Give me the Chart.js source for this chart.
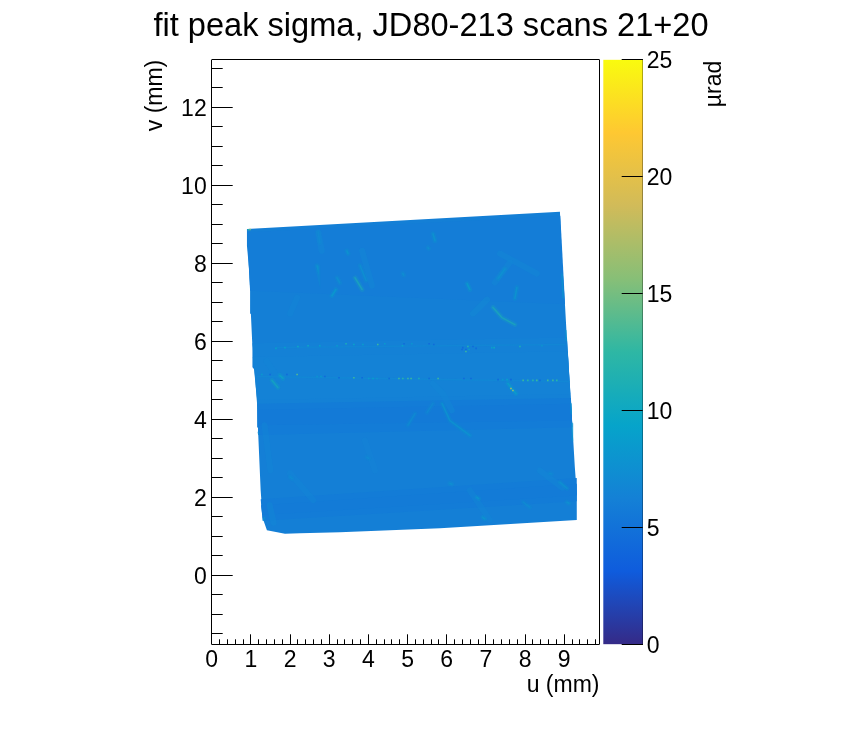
<!DOCTYPE html>
<html>
<head>
<meta charset="utf-8">
<title>fit peak sigma</title>
<script src="https://cdn.jsdelivr.net/npm/chart.js@4"></script>
<style>
html, body { margin: 0; padding: 0; background: #fff; }
canvas { position: absolute; top: 0; }
#mapChart { left: 0; }
#barChart { left: 600px; }
</style>
</head>
<body>
<canvas id="mapChart" width="862" height="732"></canvas>
<canvas id="barChart" width="262" height="732"></canvas>
<script>
/* Palette (sigma 0 to 25) */
var paletteStops = [0, 0.125, 0.25, 0.375, 0.5, 0.625, 0.75, 0.875, 1];
var paletteColors = [[53,42,135],[15,92,221],[20,129,214],[6,164,202],[46,183,164],[135,191,119],[209,187,89],[254,200,50],[249,251,14]];
var sigmaMin = 0;
var sigmaMax = 25;
var sigmaTicks = [0, 5, 10, 15, 20, 25];

/* Crystal outline (mm) */
var outlineU = [0.90,8.89,8.92,8.93,8.97,9.02,9.06,9.12,9.17,9.23,9.27,9.32,9.32,5.83,3.27,2.25,1.87,1.41,1.30,1.25,1.18,1.16,1.15,1.05,1.04,1.00,0.98,0.95,0.90];
var outlineV = [8.88,9.32,8.58,8.02,7.68,6.92,6.20,5.25,4.44,3.46,2.78,2.11,1.42,1.21,1.11,1.08,1.07,1.16,1.47,2.18,3.79,5.00,5.18,5.33,5.85,6.71,7.38,7.90,8.45];
var outlineSigma = 6.1;

/* Broad horizontal bands, wide ones first */
var bandU = [
  [0.90,0.98,9.02,8.90],
  [1.04,1.17,9.17,9.07],
  [1.05,1.16,9.15,9.09],
  [1.17,1.19,9.21,9.17],
  [1.17,1.18,9.20,9.18],
  [1.25,1.30,9.32,9.32],
  [1.26,1.29,9.32,9.32]
];
var bandV = [
  [8.80,7.30,6.95,9.22],
  [5.95,4.25,4.45,6.10],
  [5.60,4.50,4.65,5.75],
  [4.40,3.60,3.80,4.55],
  [4.25,3.85,3.97,4.40],
  [1.95,1.40,1.90,2.50],
  [1.80,1.55,2.05,2.35]
];
var bandSigma = [5.95, 6.25, 6.35, 5.85, 5.65, 5.85, 5.75];

/* Faint wide patches */
var faintU = [
  [2.72,2.81],[3.84,4.09],[7.36,8.30],[2.00,2.18],[2.00,2.59],[5.65,5.90,6.13],[8.38,8.95],
  [6.67,7.03],[7.23,7.61],[1.40,1.74],[6.59,7.10],[3.91,4.17],[1.48,1.58],[1.35,1.50]
];
var faintV = [
  [8.80,8.32],[8.32,7.43],[8.25,7.74],[6.71,7.12],[2.62,1.93],[4.92,4.66,4.23],[2.69,2.25],
  [6.71,7.07],[7.51,8.02],[5.50,5.00],[2.18,1.42],[3.46,2.69],[1.80,1.35],[3.85,2.69]
];
var faintSigma = [6.6,6.6,6.6,6.45,6.45,6.6,6.6,6.8,6.6,6.5,6.45,6.35,6.6,6.45];

/* Streaks and spots */
var streakU = [
  [2.72,2.76],[2.69,2.71],[3.45,3.48],[3.79,3.94],[3.66,3.84],[3.20,3.27],[3.07,3.17],[1.54,1.69],[1.74,1.82],
  [5.65,5.70],[5.52,5.54],[4.88,4.90],[6.52,6.59],[7.31,7.49],[7.79,7.74],[7.18,7.41,7.74],
  [5.88,6.08,6.59],[5.50,5.65],[5.01,5.19],[6.77,6.82],[6.92,6.97],[6.08,6.13],[7.95,8.12],
  [8.89,9.07],[8.63,8.68],[9.07,9.12],[3.96,4.01],[2.00,2.05],[7.56,7.77]
];
var streakV = [
  [8.80,8.53],[7.94,7.86],[8.32,8.25],[7.94,7.56],[7.63,7.33],[7.63,7.50],[7.17,7.33],[5.00,4.82],[5.13,5.05],
  [8.76,8.58],[8.40,8.38],[7.74,7.70],[7.48,7.33],[7.61,7.86],[7.38,7.10],[6.87,6.61,6.43],
  [4.41,3.97,3.59],[4.18,4.41],[3.85,4.15],[2.00,1.97],[1.49,1.45],[2.36,2.34],[1.88,1.75],
  [2.39,2.23],[2.62,2.60],[1.88,1.85],[3.03,3.00],[2.52,2.48],[4.92,4.66]
];
var streakSigma = [
  7.2,8.5,8.5,8,11,8,9,10.5,10,
  8.5,8,8,9.5,8,8.5,11,
  8.3,7.2,7.5,8.6,8.6,8,7.5,
  8,7.5,8,7.3,7.3,9.5
];

/* Teal pieces right on the crystal edge */
var edgeU = [[8.94,8.97],[9.04,9.05],[9.17,9.18],[9.20,9.21],[1.19,1.20],[1.32,1.35]];
var edgeV = [[7.73,7.12],[6.28,6.02],[4.41,4.15],[3.90,3.46],[3.67,3.62],[1.42,1.48]];
var edgeSigma = [8, 8, 8, 8, 7.5, 8];

/* Thin light lines of the two scan seams */
var seamU = [[1.16,9.12],[1.64,9.02]];
var seamV = [[5.10,4.97],[5.84,5.92]];
var seamSigma = [6.9, 6.8];

/* Single bad pixels along the seams */
var speckU = [
  1.64,1.87,2.20,2.46,2.76,3.20,3.43,3.63,3.86,4.24,4.42,4.87,4.91,5.11,5.55,5.67,6.41,6.54,6.67,6.39,6.49,6.57,6.75,6.49,7.15,7.21,7.87,8.43,
  1.28,1.49,1.92,2.18,2.69,2.79,2.89,3.25,3.63,3.84,4.01,4.12,4.22,4.53,4.78,4.88,5.01,5.09,5.29,5.55,5.78,6.44,6.62,7.31,7.43,7.54,7.64,7.95,8.07,8.20,8.30,8.38,8.58,8.71,8.81,
  7.64,7.69,0.98,0.94
];
var speckV = [
  5.82,5.84,5.87,5.89,5.89,5.89,5.94,5.92,5.92,5.92,5.94,5.89,5.94,5.94,5.94,5.92,5.84,5.87,5.87,5.79,5.79,5.79,5.82,5.74,5.84,5.84,5.87,5.89,
  5.15,5.15,5.15,5.15,5.10,5.10,5.10,5.07,5.07,5.07,5.05,5.05,5.05,5.05,5.05,5.05,5.05,5.05,5.05,5.05,5.05,5.05,5.05,5.02,5.02,5.02,5.02,5.00,5.00,5.00,5.00,5.00,5.00,5.00,5.00,
  4.79,4.74,8.87,8.86
];
var speckSigma = [
  9,9,10,10,9,8.5,11,9.5,9,13,8.5,9,4.4,8,4.4,4.4,4.2,12,4.2,4.2,4.2,9,4.2,13,9,10,11,8,
  8.5,4.2,4.4,14,8,8.5,4.2,4.2,13,4.2,8.5,9,8,4.4,13,12,13,13,11,4.4,13,4.2,4.2,4.2,8,9,4.2,13,12,12,13,4.2,13,13,12,
  17,16,15,12
];

/* Text */
var chartTitle = 'fit peak sigma, JD80-213 scans 21+20';
var uTitle = 'u (mm)';
var vTitle = 'v (mm)';
var sigmaUnit = '\u00b5rad';

Chart.defaults.font.family = '"Liberation Sans", Arial, sans-serif';
Chart.defaults.color = '#000';
Chart.defaults.animation = false;

function sigmaColor(s, alpha) {
  var t = (s - sigmaMin) / (sigmaMax - sigmaMin);
  var i = 0;
  while (i < paletteStops.length - 2 && t > paletteStops[i + 1]) i++;
  var f = (t - paletteStops[i]) / (paletteStops[i + 1] - paletteStops[i]);
  var a = paletteColors[i], b = paletteColors[i + 1];
  var rgb = [0, 1, 2].map(function(k) { return Math.round(a[k] + (b[k] - a[k]) * f); });
  return 'rgba(' + rgb.join(',') + ',' + (alpha === undefined ? 1 : alpha) + ')';
}

function toPoints(us, vs) {
  return us.map(function(u, i) { return { x: u, y: vs[i] }; });
}

function polygon(us, vs, sigma) {
  return {
    data: toPoints(us, vs), showLine: true, fill: 'shape', tension: 0,
    backgroundColor: sigmaColor(sigma), borderColor: sigmaColor(sigma), borderWidth: 0, pointRadius: 0
  };
}

function stroke(us, vs, sigma, width, alpha) {
  return {
    data: toPoints(us, vs), showLine: true, fill: false, tension: 0, borderCapStyle: 'round',
    borderColor: sigmaColor(sigma, alpha), borderWidth: width, pointRadius: 0
  };
}

/* bottom layer first */
var layers = [polygon(outlineU, outlineV, outlineSigma)];
for (let i = 0; i < bandU.length; i++) {
  layers.push(polygon(bandU[i], bandV[i], bandSigma[i]));
}
for (let i = 0; i < faintU.length; i++) {
  layers.push(stroke(faintU[i], faintV[i], faintSigma[i], 6, 0.6));
}
for (let i = 0; i < seamU.length; i++) {
  layers.push(stroke(seamU[i], seamV[i], seamSigma[i], 1.5, 0.8));
}
for (let i = 0; i < edgeU.length; i++) {
  layers.push(stroke(edgeU[i], edgeV[i], edgeSigma[i], 1.5, 0.7));
}
/* dim streaks under bright ones, each with a soft halo */
var streakOrder = streakSigma.map(function(s, i) { return i; }).sort(function(a, b) { return streakSigma[a] - streakSigma[b]; });
streakOrder.forEach(function(i) {
  layers.push(stroke(streakU[i], streakV[i], streakSigma[i], 5, 0.22));
  layers.push(stroke(streakU[i], streakV[i], streakSigma[i], 1.6, 0.65));
});
layers.push({
  data: toPoints(speckU, speckV), showLine: false, pointStyle: 'rect', pointRadius: 1.1, pointBorderWidth: 0,
  pointBackgroundColor: speckSigma.map(function(s) { return sigmaColor(s); })
});
layers.forEach(function(d, i) { d.order = layers.length - i; });

function isWhole(v) {
  return Math.abs(v - Math.round(v)) < 1e-6;
}

function hLine(ctx, x1, x2, y) {
  y = Math.floor(y) + 0.5;
  ctx.moveTo(x1, y); ctx.lineTo(x2, y);
}

function vLine(ctx, x, y1, y2) {
  x = Math.floor(x) + 0.5;
  ctx.moveTo(x, y1); ctx.lineTo(x, y2);
}

/* ROOT style ticks, inside the frame */
var frameTicks = {
  id: 'frameTicks',
  afterDraw: function(chart) {
    var ctx = chart.ctx, area = chart.chartArea;
    ctx.save();
    ctx.strokeStyle = '#000';
    ctx.lineWidth = 1;
    ctx.beginPath();
    hLine(ctx, area.left, area.right, area.top);
    hLine(ctx, area.left, area.right, area.bottom);
    vLine(ctx, area.left, area.top, area.bottom);
    vLine(ctx, area.right, area.top, area.bottom);
    chart.scales.x.ticks.forEach(function(t) {
      var len = isWhole(t.value) ? 10 : 5;
      vLine(ctx, chart.scales.x.getPixelForValue(t.value), area.bottom, area.bottom - len);
    });
    chart.scales.y.ticks.forEach(function(t) {
      var len = isWhole(t.value / 2) ? 21 : 11;
      hLine(ctx, area.left, area.left + len, chart.scales.y.getPixelForValue(t.value));
    });
    ctx.stroke();
    ctx.restore();
  }
};

var myChart_map = new Chart(document.getElementById('mapChart'), {
  type: 'scatter',
  data: { datasets: layers },
  plugins: [frameTicks],
  options: {
    responsive: false,
    devicePixelRatio: 1,
    layout: { padding: 0 },
    plugins: {
      legend: { display: false },
      tooltip: { enabled: false },
      title: {
        display: true, text: chartTitle,
        font: { size: 32.6, weight: 'normal', lineHeight: 1.2 },
        padding: { top: 7.5, bottom: 13.1 }
      }
    },
    scales: {
      x: {
        type: 'linear', min: 0, max: 9.9,
        grid: { display: false, drawTicks: false }, border: { display: false },
        afterFit: function(s) { s.height = 87.7; },
        ticks: {
          stepSize: 0.2, includeBounds: false, autoSkip: false, maxRotation: 0, padding: 3,
          font: { size: 23 },
          callback: function(v) { return isWhole(v) ? Math.round(v) : ''; }
        },
        title: { display: true, text: uTitle, align: 'end', font: { size: 23 }, padding: { bottom: 32.4 } }
      },
      y: {
        type: 'linear', min: -1.765, max: 13.22,
        grid: { display: false, drawTicks: false }, border: { display: false },
        afterFit: function(s) { s.width = 211.7; },
        ticks: {
          stepSize: 0.5, includeBounds: false, autoSkip: false, padding: 5, labelOffset: 2,
          font: { size: 23 },
          callback: function(v) { return isWhole(v / 2) ? Math.round(v) : ''; }
        },
        title: { display: true, text: vTitle, align: 'end', font: { size: 23 }, padding: { top: 141.4 } }
      },
      /* empty axis, keeps the room for the palette */
      margin: {
        type: 'linear', position: 'right',
        grid: { display: false }, border: { display: false }, ticks: { display: false },
        afterFit: function(s) { s.width = 262.5; }
      }
    }
  }
});

/* Palette bar */
var paletteFill = function(context) {
  var area = context.chart.chartArea;
  if (!area) return '#000';
  var g = context.chart.ctx.createLinearGradient(0, area.bottom, 0, area.top);
  paletteStops.forEach(function(s, i) {
    g.addColorStop(s, 'rgb(' + paletteColors[i].join(',') + ')');
  });
  return g;
};

var barTicks = {
  id: 'barTicks',
  afterDraw: function(chart) {
    var ctx = chart.ctx, area = chart.chartArea, y = chart.scales.y;
    ctx.save();
    ctx.strokeStyle = '#000';
    ctx.lineWidth = 1;
    ctx.beginPath();
    sigmaTicks.forEach(function(v) {
      hLine(ctx, area.right - 21, area.right, y.getPixelForValue(v));
    });
    ctx.stroke();
    ctx.translate(115, 84);
    ctx.rotate(-Math.PI / 2);
    ctx.fillStyle = '#000';
    ctx.font = '23px "Liberation Sans", Arial, sans-serif';
    ctx.textAlign = 'center';
    ctx.textBaseline = 'middle';
    ctx.fillText(sigmaUnit, 0, 0);
    ctx.restore();
  }
};

var myChart_bar = new Chart(document.getElementById('barChart'), {
  type: 'bar',
  data: {
    labels: ['sigma'],
    datasets: [{ data: [[sigmaMin, sigmaMax]], backgroundColor: paletteFill, borderWidth: 0, barPercentage: 1, categoryPercentage: 1 }]
  },
  plugins: [barTicks],
  options: {
    responsive: false,
    devicePixelRatio: 1,
    layout: { padding: { left: 3.3, top: 59.7, bottom: 87.7, right: 0 } },
    plugins: { legend: { display: false }, tooltip: { enabled: false } },
    scales: {
      x: { display: false },
      y: {
        position: 'right', min: sigmaMin, max: sigmaMax,
        grid: { display: false, drawTicks: false },
        border: { display: true, color: '#000', width: 1 },
        afterFit: function(s) { s.width = 219.3; },
        ticks: { stepSize: 5, padding: 4, labelOffset: 2, font: { size: 23 } }
      }
    }
  }
});
</script>
</body>
</html>
